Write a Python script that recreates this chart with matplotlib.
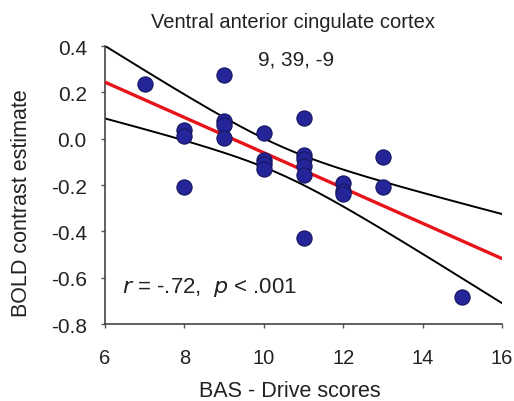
import numpy as np
import matplotlib
matplotlib.use('Agg')
import matplotlib.pyplot as plt

plt.rcParams['font.family'] = ['Liberation Sans', 'DejaVu Sans']

# BAS drive scores and BOLD contrast estimates
bas = [7, 8, 8, 8, 9, 9, 9, 9, 10, 10, 10, 10, 11, 11, 11, 11, 11, 11, 12, 12, 12, 13, 13, 15]
bold = [0.237, 0.036, 0.011, -0.208, 0.276, 0.076, 0.057, 0.004, 0.026, -0.093, -0.110, -0.129,
        0.089, -0.070, -0.089, -0.118, -0.158, -0.430, -0.190, -0.225, -0.240, -0.078, -0.208, -0.683]
x_ticks = [6, 8, 10, 12, 14, 16]
y_ticks = [0.4, 0.2, 0.0, -0.2, -0.4, -0.6, -0.8]

x = np.array(bas, dtype=float)
y = np.array(bold)
n = len(x)

# least squares fit + 95% confidence band of the mean
slope, icpt = np.polyfit(x, y, 1)
resid = y - (slope * x + icpt)
s = np.sqrt(np.sum(resid ** 2) / (n - 2))
sxx = np.sum((x - x.mean()) ** 2)
t = 2.074  # t(0.975, df=22)
xs = np.linspace(6, 16, 200)
fit = slope * xs + icpt
half = t * s * np.sqrt(1.0 / n + (xs - x.mean()) ** 2 / sxx)

fig = plt.figure(figsize=(5.14, 4.02), dpi=100)
ax = fig.add_axes([0.204, 0.1915, 0.773, 0.6915])

ax.plot(xs, fit + half, color='black', lw=1.4, zorder=2)
ax.plot(xs, fit - half, color='black', lw=1.4, zorder=2)
ax.plot(xs, fit, color='#e8141c', lw=2.4, zorder=3)
ax.scatter(x, y, s=120, color='#25259a', edgecolor='#16165e', linewidth=0.8, zorder=4)

ax.set_xlim(6, 16)
ax.set_ylim(-0.8, 0.4)
ax.set_xticks(x_ticks)
ax.set_yticks(y_ticks)
ax.set_xticklabels([str(v) for v in x_ticks])
ax.set_yticklabels(['%.1f' % v for v in y_ticks])
ax.tick_params(length=3, width=1, color='#555555', labelcolor='#222222')
ax.tick_params(axis='x', labelsize=14.5, pad=14)
ax.tick_params(axis='y', labelsize=15, pad=10)
for side in ['top', 'right']:
    ax.spines[side].set_visible(False)
for side in ['left', 'bottom']:
    ax.spines[side].set_color('#444444')
    ax.spines[side].set_linewidth(1.2)

fig.text(290 / 514, 1 - 392 / 402, 'BAS - Drive scores', fontsize=15.5, color='#222222',
         ha='center', va='center')
fig.text(22 / 514, 1 - 203 / 402, 'BOLD contrast estimate', fontsize=15.5, color='#222222',
         ha='center', va='center', rotation=90)
fig.text(293 / 514, 1 - 22 / 402, 'Ventral anterior cingulate cortex', fontsize=14.5,
         color='#222222', ha='center', va='center')

ax.text(0.48, 0.953, '9, 39, -9', transform=ax.transAxes, ha='center', va='center',
        fontsize=15, color='#222222')
ax.text(6.43, -0.636, r'$\it{r}$ = -.72,  $\it{p}$ < .001', fontsize=16, color='#222222',
        va='center', ha='left')

fig.savefig('out.png', dpi=100)
